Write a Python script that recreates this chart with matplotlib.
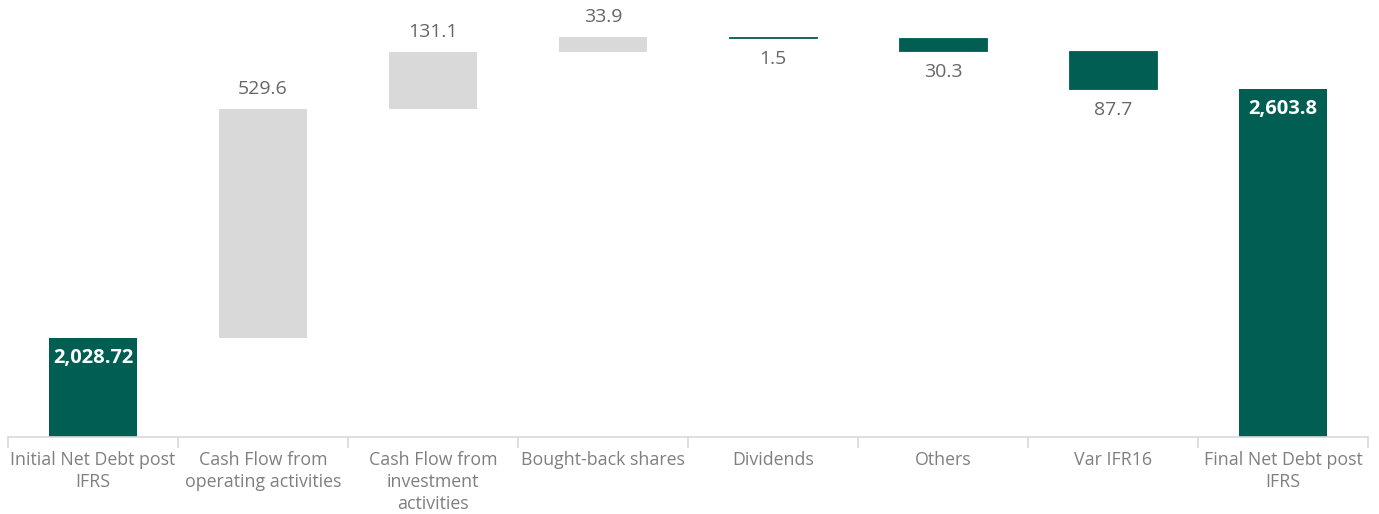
import matplotlib.pyplot as plt
import numpy as np

plt.rcParams['font.family'] = ['Open Sans', 'DejaVu Sans']

categories = ["Initial Net Debt post\nIFRS", "Cash Flow from\noperating activities",
              "Cash Flow from\ninvestment\nactivities", "Bought-back shares",
              "Dividends", "Others", "Var IFR16", "Final Net Debt post\nIFRS"]
initial = 2028.72
changes = [529.6, 131.1, 33.9, -1.5, -30.3, -87.7]
final = 2603.8

TEAL = "#005E52"
LIGHT = "#D9D9D9"
TEXT = "#7F7F7F"
VALUE = "#666666"

fig = plt.figure(figsize=(13.79, 5.14), dpi=100)
ax = fig.add_axes([8 / 1379, 77 / 514, 1360 / 1379, 433 / 514])
ymin, ymax = 1800, 2800
ax.set_ylim(ymin, ymax)
ax.set_xlim(-0.5, len(categories) - 0.5)

x = np.arange(len(categories))
width = 0.52

# totals at both ends
for xi, total, fmt in [(0, initial, "{:,.2f}"), (len(categories) - 1, final, "{:,.1f}")]:
    ax.bar(xi, total - ymin, bottom=ymin, width=width, color=TEAL)
    ax.annotate(fmt.format(total), (xi, total), xytext=(0, -7), textcoords="offset points",
                ha="center", va="top", color="white", fontsize=14.5, fontweight="bold")

# floating steps
running = initial
for i, delta in enumerate(changes, start=1):
    start, end = running, running + delta
    lo, hi = min(start, end), max(start, end)
    color = LIGHT if delta > 0 else TEAL
    ax.bar(i, hi - lo, bottom=lo, width=width, color=color,
           edgecolor=color, linewidth=0.6 if delta < 0 else 0)
    if delta > 0:
        ax.annotate(f"{abs(delta):.1f}", (i, hi), xytext=(0, 8), textcoords="offset points",
                    ha="center", va="bottom", color=VALUE, fontsize=14)
    else:
        ax.annotate(f"{abs(delta):.1f}", (i, lo), xytext=(0, -9), textcoords="offset points",
                    ha="center", va="top", color=VALUE, fontsize=14)
    running = end

for side in ["top", "right", "left"]:
    ax.spines[side].set_visible(False)
ax.spines["bottom"].set_color(LIGHT)
ax.spines["bottom"].set_linewidth(1.2)
ax.set_yticks([])

# category boundaries as ticks
ax.set_xticks(np.arange(-0.5, len(categories)), minor=False)
ax.tick_params(axis="x", which="major", length=8, color=LIGHT, width=1.2, labelbottom=False)
ax.set_xticks(x, minor=True)
ax.set_xticklabels(categories, minor=True, fontsize=12.8, color=TEXT, linespacing=1.3)
ax.tick_params(axis="x", which="minor", length=0, pad=10)

fig.savefig("out.png", dpi=100)
